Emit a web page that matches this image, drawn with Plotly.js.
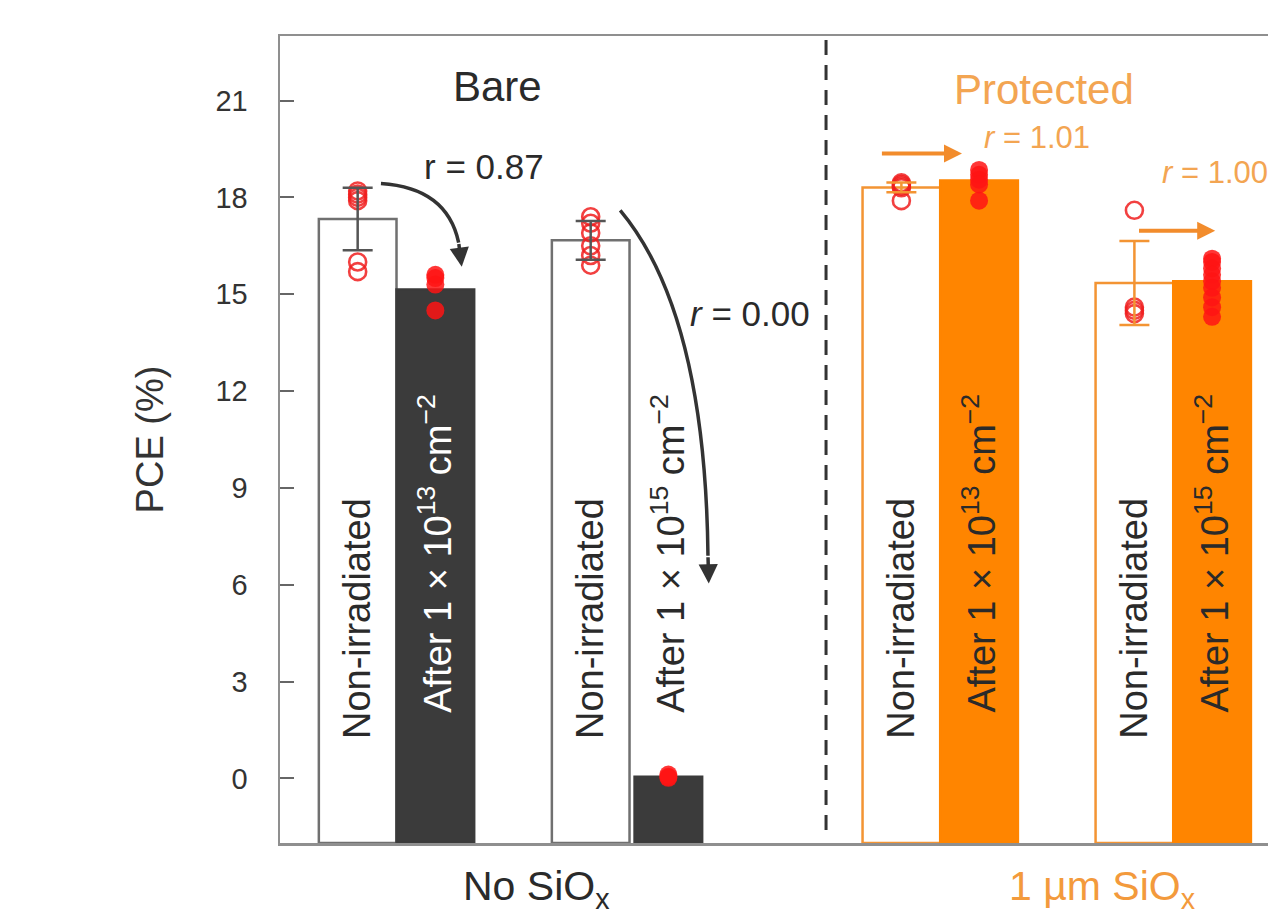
<!DOCTYPE html>
<html>
<head>
<meta charset="utf-8">
<script src="https://cdn.plot.ly/plotly-3.0.1.min.js"></script>
<style>html,body{margin:0;padding:0;overflow:hidden;background:#fff}#chart{width:1268px;height:917px}</style>
</head>
<body>
<div id="chart"></div>
<script>
// ---- data ----
const groupLabels = ["No SiO<sub>x</sub>", "1 µm SiO<sub>x</sub>"];
const panelLabels = ["Bare", "Protected"];
const conditionLabels = [
  "Non-irradiated", "After 1 × 10<sup>13</sup> cm<sup>−2</sup>",
  "Non-irradiated", "After 1 × 10<sup>15</sup> cm<sup>−2</sup>",
  "Non-irradiated", "After 1 × 10<sup>13</sup> cm<sup>−2</sup>",
  "Non-irradiated", "After 1 × 10<sup>15</sup> cm<sup>−2</sup>"
];
const meanPCE = [17.33, 15.15, 16.67, 0.05, 18.31, 18.52, 15.35, 15.40];
const errPCE  = [0.97, 0, 0.60, 0, 0.15, 0, 1.30, 0];
const cellPCE = [
  [18.2, 18.1, 18.0, 17.9, 16.0, 15.7],
  [15.6, 15.5, 15.3, 14.5],
  [17.4, 17.2, 16.9, 16.5, 16.2, 15.9],
  [0.12, 0.05, 0.02],
  [18.45, 18.4, 18.35, 18.3, 17.9],
  [18.85, 18.7, 18.55, 18.4, 17.9],
  [17.6, 14.6, 14.5, 14.4],
  [16.1, 16.0, 15.8, 15.6, 15.4, 15.2, 14.9, 14.6, 14.3]
];
const ratioLabels = ["0.87", "0.00", "1.01", "1.00"];
const yTicks = [0, 3, 6, 9, 12, 15, 18, 21];

// ---- layout helpers ----
const slot = i => 7 * Math.floor(i / 4) + 3 * Math.floor((i % 4) / 2) + (i % 2);
const xs = meanPCE.map((_, i) => slot(i));
const isIrr = i => i % 2 === 1;
const isProt = i => i >= 4;
const DARK = '#3b3b3b', ORANGE = '#ff8500', GRAYLINE = '#707070', ORLINE = '#f39433';
const BASE = -2;
const FONT = 'Liberation Sans, Arial, sans-serif';

const traces = [];
// bars
traces.push({
  type: 'bar',
  x: xs,
  y: meanPCE.map(v => v - BASE),
  base: BASE,
  width: xs.map((_, i) => i === 3 ? 0.87 : 1.0),
  marker: {
    color: meanPCE.map((_, i) => isIrr(i) ? (isProt(i) ? ORANGE : DARK) : '#ffffff'),
    line: {
      color: meanPCE.map((_, i) => isIrr(i) ? (isProt(i) ? ORANGE : DARK) : (isProt(i) ? ORLINE : GRAYLINE)),
      width: 2.5
    }
  },
  hoverinfo: 'skip',
  showlegend: false
});
// individual cells
cellPCE.forEach((vals, i) => {
  traces.push({
    type: 'scatter', mode: 'markers',
    x: vals.map(() => xs[i]), y: vals,
    marker: isIrr(i)
      ? {symbol: 'circle', size: 18, color: 'rgba(255,20,20,0.85)', line: {width: 0}}
      : {symbol: 'circle-open', size: 17, color: 'rgba(240,30,30,0.85)', line: {width: 2.6}},
    hoverinfo: 'skip', showlegend: false
  });
});
// error bars
meanPCE.forEach((v, i) => {
  if (!errPCE[i]) return;
  traces.push({
    type: 'scatter', mode: 'markers',
    x: [xs[i]], y: [v],
    marker: {size: 1, opacity: 0},
    error_y: {type: 'data', array: [errPCE[i]], visible: true,
      color: isProt(i) ? ORLINE : '#555555', thickness: 2.5, width: 15},
    hoverinfo: 'skip', showlegend: false
  });
});

const annotations = [];
const shapes = [];
// rotated condition labels inside bars
conditionLabels.forEach((t, i) => {
  annotations.push({
    x: xs[i], y: isIrr(i) ? 6.97 : 4.96, xref: 'x', yref: 'y',
    text: t, textangle: -90, showarrow: false,
    font: {family: FONT, size: 38, color: (isIrr(i) && !isProt(i) && i !== 3) ? '#ffffff' : '#2a2a2a'}
  });
});
// panel titles
annotations.push({x: 1.80, y: 21.45, xref: 'x', yref: 'y', text: panelLabels[0], showarrow: false,
  font: {family: FONT, size: 42, color: '#2a2a2a'}});
annotations.push({x: 8.84, y: 21.35, xref: 'x', yref: 'y', text: panelLabels[1], showarrow: false,
  font: {family: FONT, size: 42, color: '#f3a552'}});
// group labels
annotations.push({x: 2.30, y: 0, xref: 'x', yref: 'paper', yanchor: 'middle', yshift: -46,
  text: groupLabels[0], showarrow: false, font: {family: FONT, size: 41, color: '#2a2a2a'}});
annotations.push({x: 9.59, y: 0, xref: 'x', yref: 'paper', yanchor: 'middle', yshift: -46,
  text: groupLabels[1], showarrow: false, font: {family: FONT, size: 41, color: '#f39a3c'}});
// ratio labels
annotations.push({x: 1.62, y: 18.95, xref: 'x', yref: 'y', text: 'r = ' + ratioLabels[0], showarrow: false,
  font: {family: FONT, size: 35, color: '#2a2a2a'}});
annotations.push({x: 5.05, y: 14.4, xref: 'x', yref: 'y', text: '<i>r</i> = ' + ratioLabels[1], showarrow: false,
  font: {family: FONT, size: 35, color: '#2a2a2a'}});
annotations.push({x: 8.75, y: 19.85, xref: 'x', yref: 'y', text: '<i>r</i> = ' + ratioLabels[2], showarrow: false,
  font: {family: FONT, size: 31, color: '#f3a552'}});
annotations.push({x: 11.04, y: 18.77, xref: 'x', yref: 'y', text: '<i>r</i> = ' + ratioLabels[3], showarrow: false,
  font: {family: FONT, size: 31, color: '#f3a552'}});
// curved arrows (bare)
shapes.push({type: 'path', xref: 'x', yref: 'y', path: 'M 0.30 18.43 Q 1.15 18.3 1.30 16.6',
  line: {color: '#333', width: 3.5}});
annotations.push({x: 1.34, y: 15.85, ax: 1.30, ay: 16.6, xref: 'x', yref: 'y', axref: 'x', ayref: 'y',
  text: '', showarrow: true, arrowhead: 2, arrowsize: 1.1, arrowwidth: 3.5, arrowcolor: '#333'});
shapes.push({type: 'path', xref: 'x', yref: 'y', path: 'M 3.38 17.6 Q 4.475 14.45 4.51 6.9',
  line: {color: '#333', width: 3.5}});
annotations.push({x: 4.52, y: 6.04, ax: 4.51, ay: 6.9, xref: 'x', yref: 'y', axref: 'x', ayref: 'y',
  text: '', showarrow: true, arrowhead: 2, arrowsize: 1.1, arrowwidth: 3.5, arrowcolor: '#333'});
// straight arrows (protected)
annotations.push({x: 7.78, y: 19.36, ax: 6.73, ay: 19.36, xref: 'x', yref: 'y', axref: 'x', ayref: 'y',
  text: '', showarrow: true, arrowhead: 2, arrowsize: 0.9, arrowwidth: 4, arrowcolor: '#f28c2c'});
annotations.push({x: 11.04, y: 16.97, ax: 10.04, ay: 16.97, xref: 'x', yref: 'y', axref: 'x', ayref: 'y',
  text: '', showarrow: true, arrowhead: 2, arrowsize: 0.9, arrowwidth: 4, arrowcolor: '#f28c2c'});
// dashed separator
shapes.push({type: 'line', xref: 'x', yref: 'y', x0: 6.03, x1: 6.03, y0: -1.6, y1: 23,
  line: {color: '#333', width: 3, dash: '15px,10px'}});

const layout = {
  width: 1268, height: 917,
  margin: {l: 280, r: 0, t: 36, b: 74},
  paper_bgcolor: '#fff', plot_bgcolor: '#fff',
  font: {family: FONT, color: '#333'},
  bargap: 0,
  xaxis: {range: [-1, 11.72], showline: true, linecolor: '#8f8f8f', linewidth: 2.5, mirror: true,
    showticklabels: false, ticks: '', showgrid: false, zeroline: false, fixedrange: true},
  yaxis: {range: [-2, 23], showline: true, linecolor: '#8f8f8f', linewidth: 2.5, mirror: false,
    ticks: 'inside', ticklen: 14, tickwidth: 2, tickcolor: '#666', tickvals: yTicks,
    ticklabelstandoff: 24, tickfont: {family: FONT, size: 29, color: '#333'},
    showgrid: false, zeroline: false, fixedrange: true,
    title: {text: 'PCE (%)', font: {family: FONT, size: 38, color: '#333'}, standoff: 40}},
  annotations: annotations,
  shapes: shapes,
  showlegend: false
};
Plotly.newPlot('chart', traces, layout, {displayModeBar: false, staticPlot: true});
</script>
</body>
</html>
